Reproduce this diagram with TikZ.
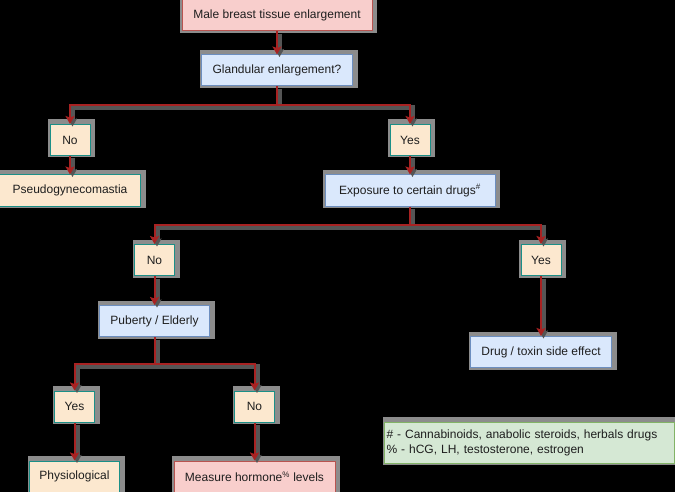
\documentclass[tikz,border=0pt]{standalone}
\usepackage{fontspec}
\setmainfont{Liberation Sans}
\usetikzlibrary{arrows.meta,calc}

\definecolor{pinkfill}{HTML}{F8CECC}
\definecolor{pinkline}{HTML}{B85450}
\definecolor{bluefill}{HTML}{DAE8FC}
\definecolor{blueline}{HTML}{6C8EBF}
\definecolor{creamfill}{HTML}{FCE8CF}
\definecolor{tealline}{HTML}{1B8F87}
\definecolor{greenfill}{HTML}{D5E8D4}
\definecolor{greenline}{HTML}{82B366}
\definecolor{linered}{HTML}{A82222}
\definecolor{boxshade}{HTML}{8C8C8C}
\definecolor{lineshade}{HTML}{555555}
\definecolor{textdark}{HTML}{1E1E1E}

\tikzstyle{box} = [draw, line width=1pt, minimum height=31pt, inner sep=2pt,
  font=\fontsize{12pt}{14pt}\selectfont, text=textdark,
  preaction={fill=boxshade, draw=boxshade, line width=7pt,
    transform canvas={xshift=1.5pt, yshift=1.5pt}}]
\tikzstyle{pinkbox} = [box, fill=pinkfill, draw=pinkline]
\tikzstyle{bluebox} = [box, fill=bluefill, draw=blueline]
\tikzstyle{answer} = [box, fill=creamfill, draw=tealline, minimum width=40pt]
\tikzstyle{notes} = [box, fill=greenfill, draw=greenline, align=left,
  font=\fontsize{12pt}{15pt}\selectfont, minimum height=41pt, text width=286pt]

\begin{document}
\begin{tikzpicture}[grow=down, sibling distance=0pt,
    level 1/.style={level distance=55pt},
    level 2/.style={level distance=69.5pt},
    level 3/.style={level distance=50.5pt},
    level 4/.style={level distance=69.5pt},
    level 5/.style={level distance=61pt},
    level 6/.style={level distance=85.5pt},
    level 7/.style={level distance=70pt},
    edge from parent/.style={draw=linered, line width=2pt,
      -{Stealth[length=8pt, width=9pt, inset=1.5pt]},
      preaction={draw=lineshade, line width=5pt,
        transform canvas={xshift=2.5pt, yshift=-2.5pt}}},
    edge from parent path={(\tikzparentnode.south)
      |- ($(\tikzparentnode.south)!.5!(\tikzchildnode.north)$)
      -| (\tikzchildnode.north)}]
  \path[fill=black, use as bounding box] (0pt,0pt) rectangle (675pt,-492pt);

  \node[pinkbox, minimum width=190pt] (male) at (277pt,-15.5pt) {Male breast tissue enlargement}
  child {
    node[bluebox, minimum width=151pt] (glandular) {Glandular enlargement?}
    child[xshift=-207pt] {
      node[answer] (no1) {No}
      child {
        node[answer, minimum width=141pt] (pseudo) {Pseudogynecomastia}
      }
    }
    child[xshift=133pt] {
      node[answer] (yes1) {Yes}
      child {
        node[bluebox, minimum width=170pt] (drugs) {Exposure to certain drugs\textsuperscript{\#}}
        child[xshift=-255.5pt] {
          node[answer] (no2) {No}
          child {
            node[bluebox, minimum width=110pt] (age) {Puberty / Elderly}
            child[xshift=-80pt] {
              node[answer] (yes3) {Yes}
              child {
                node[answer, minimum width=90pt] (physio) {Physiological}
              }
            }
            child[xshift=100pt] {
              node[answer] (no3) {No}
              child {
                node[pinkbox, minimum width=161pt] (hormone) {Measure hormone\textsuperscript{\%} levels}
              }
            }
          }
        }
        child[xshift=131pt] {
          node[answer] (yes2) {Yes}
          child[level distance=92pt] {
            node[bluebox, minimum width=141pt] (toxin) {Drug / toxin side effect}
          }
        }
      }
    }
  };

  % footnotes for # and %
  \node[notes, anchor=north west] (legend) at (384pt,-421.7pt)
    {\# - Cannabinoids, anabolic steroids, herbals drugs\\
     \% - hCG, LH, testosterone, estrogen};
\end{tikzpicture}
\end{document}
